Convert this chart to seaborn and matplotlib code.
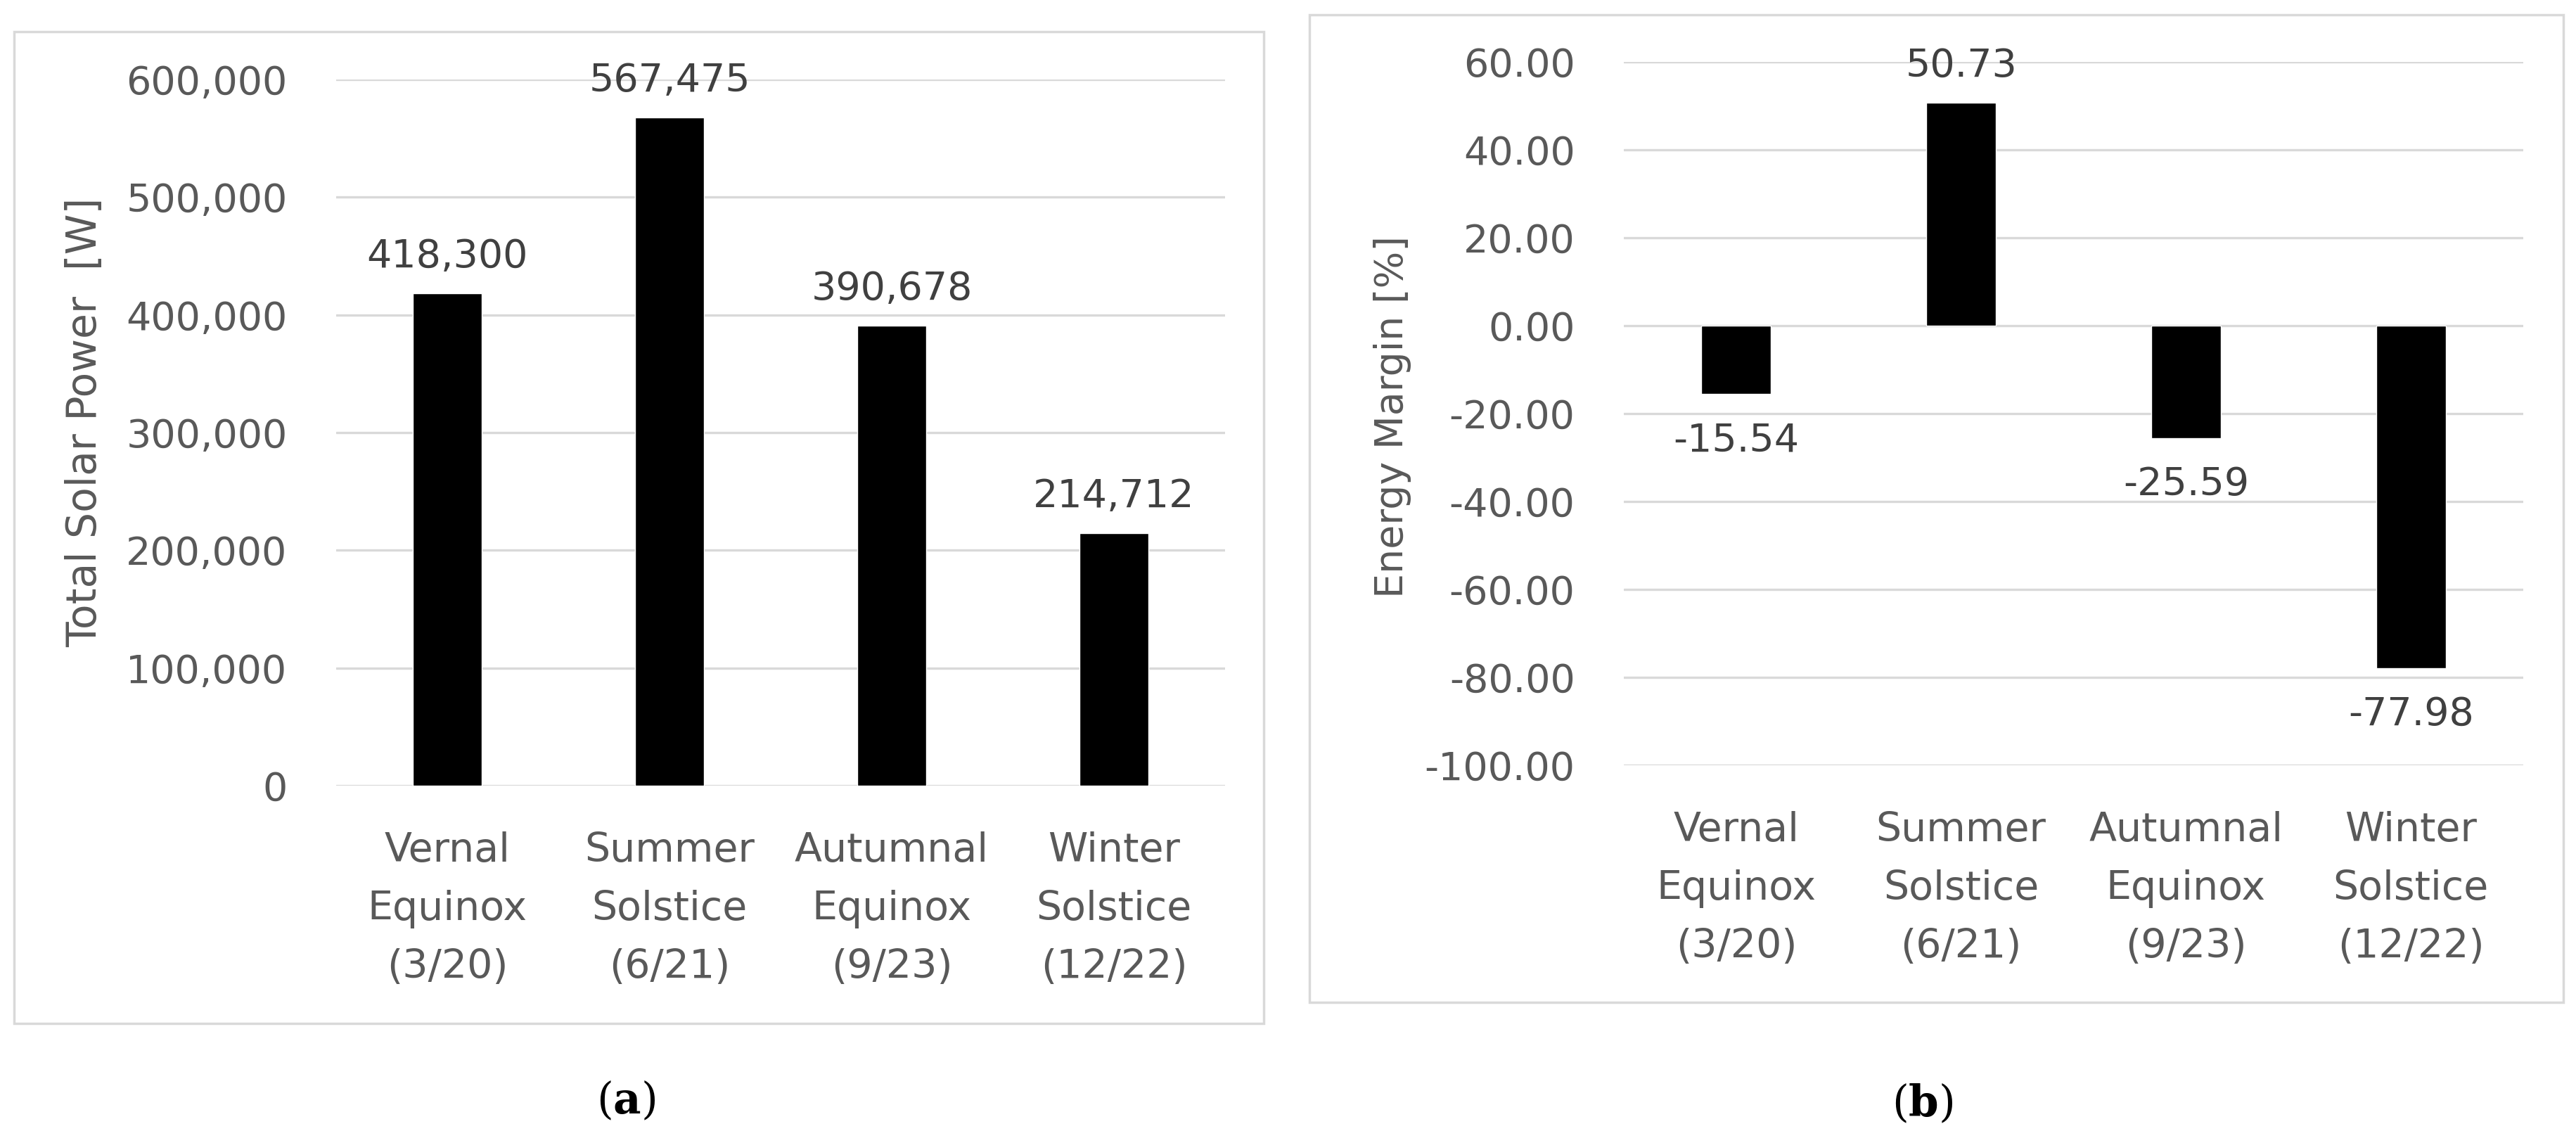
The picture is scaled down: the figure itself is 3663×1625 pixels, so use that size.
import matplotlib
matplotlib.use("Agg")
import matplotlib.pyplot as plt
import seaborn as sns
from matplotlib.patches import Rectangle
from matplotlib.ticker import FuncFormatter, MultipleLocator

# data
categories = ["Vernal\nEquinox\n(3/20)", "Summer\nSolstice\n(6/21)",
              "Autumnal\nEquinox\n(9/23)", "Winter\nSolstice\n(12/22)"]
solar_power = [418300, 567475, 390678, 214712]
energy_margin = [-15.54, 50.73, -25.59, -77.98]

sns.set_style("white")
plt.rcParams["font.family"] = ["DejaVu Sans"]
plt.rcParams["axes.unicode_minus"] = False
plt.rcParams["mathtext.fontset"] = "custom"
plt.rcParams["mathtext.rm"] = "DejaVu Serif"
plt.rcParams["mathtext.bf"] = "DejaVu Serif:bold"

GREY = "#595959"
GRID = "#d9d9d9"
W, H = 3663, 1625

fig = plt.figure(figsize=(W / 100, H / 100), dpi=100)
fig.patch.set_facecolor("white")

# outer boxes around each chart
for x0, y0, x1, y1 in [(20, 45, 1797, 1455), (1862, 21, 3645, 1425)]:
    fig.patches.append(Rectangle((x0 / W, 1 - y1 / H), (x1 - x0) / W, (y1 - y0) / H,
                                 transform=fig.transFigure, fill=False,
                                 edgecolor=GRID, lw=2.5))


def style_axis(ax):
    for s in ax.spines.values():
        s.set_visible(False)
    ax.yaxis.grid(True, color=GRID, lw=2.4)
    ax.xaxis.grid(False)
    ax.set_axisbelow(True)
    ax.tick_params(axis="both", length=0, labelcolor=GREY)
    ax.tick_params(axis="y", pad=50, labelsize=40)
    ax.tick_params(axis="x", pad=47, labelsize=41)
    for lbl in ax.get_xticklabels():
        lbl.set_linespacing(1.65)
    ax.set_xlabel("")


# (a) total solar power
ax1 = fig.add_axes([478 / W, 1 - 1117 / H, 1264 / W, 1004 / H])
sns.barplot(x=categories, y=solar_power, color="black", saturation=1, width=0.31, ax=ax1)
ax1.set_ylim(0, 600000)
ax1.yaxis.set_major_locator(MultipleLocator(100000))
ax1.yaxis.set_major_formatter(FuncFormatter(lambda v, p: f"{v:,.0f}"))
ax1.set_ylabel("Total Solar Power  [W]", fontsize=42, color=GREY)
ax1.yaxis.set_label_coords(-0.260, 0.515)
style_axis(ax1)
ax1.bar_label(ax1.containers[0], labels=[f"{v:,.0f}" for v in solar_power],
              padding=18, fontsize=40, color="#404040")

# (b) energy margin
ax2 = fig.add_axes([2309 / W, 1 - 1088 / H, 1279 / W, 1000 / H])
sns.barplot(x=categories, y=energy_margin, color="black", saturation=1, width=0.31, ax=ax2)
ax2.set_ylim(-100, 60)
ax2.yaxis.set_major_locator(MultipleLocator(20))
ax2.yaxis.set_major_formatter(FuncFormatter(lambda v, p: f"{v:.2f}"))
ax2.set_ylabel("Energy Margin [%]", fontsize=40, color=GREY)
ax2.yaxis.set_label_coords(-0.236, 0.496)
style_axis(ax2)
ax2.bar_label(ax2.containers[0], labels=[f"{v:.2f}" if v > 0 else "" for v in energy_margin],
              padding=18, fontsize=40, color="#404040")
ax2.bar_label(ax2.containers[0], labels=[f"{v:.2f}" if v < 0 else "" for v in energy_margin],
              padding=28, fontsize=40, color="#404040")

fig.text(890 / W, 1 - 1566 / H, r"($\mathbf{a}$)", fontsize=44, family="DejaVu Serif",
         ha="center", va="center", color="black")
fig.text(2734 / W, 1 - 1570 / H, r"($\mathbf{b}$)", fontsize=44, family="DejaVu Serif",
         ha="center", va="center", color="black")

fig.savefig("out.png", dpi=100, facecolor="white")
